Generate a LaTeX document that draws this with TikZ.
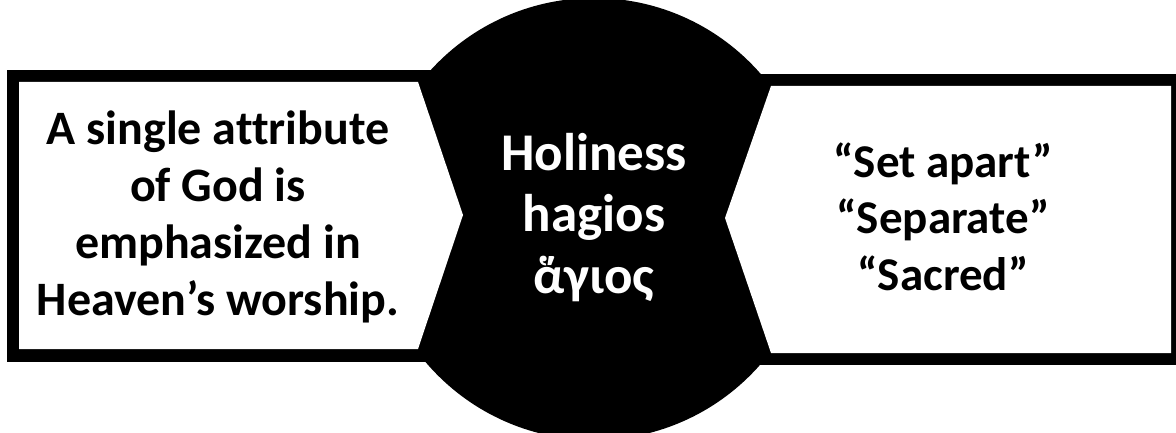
\documentclass[tikz,border=0pt]{standalone}
\usepackage{fontspec}
\setmainfont{Carlito}[Ligatures=NoCommon]
\begin{document}
\begin{tikzpicture}[x=1pt,y=-1pt,
  side/.style={align=center,anchor=base,inner sep=0pt,font=\fontsize{48}{57}\selectfont\bfseries,text=black},
  rside/.style={align=center,anchor=base,inner sep=0pt,font=\fontsize{47}{56.5}\selectfont\bfseries,text=black},
  mid/.style={align=center,anchor=base,inner sep=0pt,font=\fontsize{53}{61.5}\selectfont\bfseries,text=white}]
\useasboundingbox (0,0) rectangle (1176,433);
\fill[white] (0,0) rectangle (1176,433);
% black frames and circle
\fill[black] (7,70) rectangle (440,362);
\fill[black] (750,74) rectangle (1190,365);
\fill[black] (594,219) circle[radius=221];
% white panels
\fill[white] (19,82) -- (418,82) -- (463,215) -- (418,349) -- (19,349) -- cycle;
\fill[white] (771,86) -- (1171,86) -- (1171,353) -- (771,353) -- (725,218) -- cycle;
% texts
\node[side] (left) at (218,315) {A single attribute\\of God is\\emphasized in\\Heaven’s worship.};
\node[mid] (center) at (594,293) {Holiness\\hagios\\ἅγιος};
\node[rside] (right) at (943,290) {“Set apart”\\“Separate”\\“Sacred”};
\end{tikzpicture}
\end{document}
